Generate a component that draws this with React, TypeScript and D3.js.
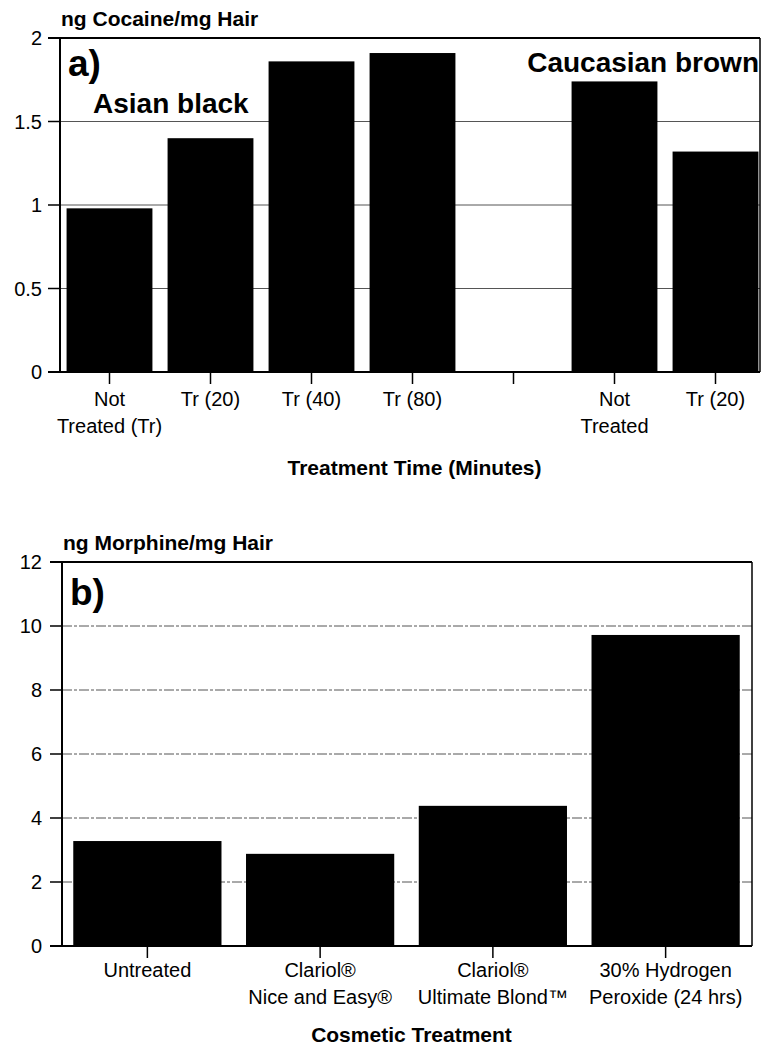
import React from "react";
import * as d3 from "d3";

const cocaineLabels: string[][] = [
  ["Not", "Treated (Tr)"],
  ["Tr (20)"],
  ["Tr (40)"],
  ["Tr (80)"],
  [],
  ["Not", "Treated"],
  ["Tr (20)"],
];
const cocaineValues = [0.98, 1.4, 1.86, 1.91, 0, 1.74, 1.32];
const cocaineTicks = [0, 0.5, 1, 1.5, 2];

const morphineLabels: string[][] = [
  ["Untreated"],
  ["Clariol®", "Nice and Easy®"],
  ["Clariol®", "Ultimate Blond™"],
  ["30% Hydrogen", "Peroxide (24 hrs)"],
];
const morphineValues = [3.28, 2.88, 4.38, 9.72];
const morphineTicks = [0, 2, 4, 6, 8, 10, 12];

const FONT = "'Liberation Sans', Arial, Helvetica, sans-serif";

type PanelProps = {
  labels: string[][];
  values: number[];
  ticks: number[];
  yMax: number;
  x0: number;
  x1: number;
  frameRight: number;
  yTop: number;
  yBottom: number;
  padIn: number;
  padOut: number;
  yTitle: string;
  panelLabel: string;
  panelLabelY: number;
  xTitle: string;
  labelBase: number;
  labelStep: number;
  xTitleY: number;
  gridDash?: string;
};

function Panel(p: PanelProps) {
  const idx = p.values.map((_, i) => String(i));
  const x = d3
    .scaleBand<string>()
    .domain(idx)
    .range([p.x0, p.x1])
    .paddingInner(p.padIn)
    .paddingOuter(p.padOut);
  const y = d3.scaleLinear().domain([0, p.yMax]).range([p.yBottom, p.yTop]);
  const left = p.x0 + 1;
  return (
    <g>
      {/* gridlines */}
      {p.ticks
        .filter((t) => t > 0 && t < p.yMax)
        .map((t) => (
          <line
            key={"g" + t}
            x1={left}
            x2={p.frameRight}
            y1={y(t)}
            y2={y(t)}
            stroke="#555"
            strokeWidth={1}
            strokeDasharray={p.gridDash}
          />
        ))}
      {/* bars */}
      {p.values.map((v, i) =>
        v > 0 ? (
          <rect
            key={"b" + i}
            x={x(String(i))}
            y={y(v)}
            width={x.bandwidth()}
            height={y(0) - y(v)}
            fill="#000"
          />
        ) : null
      )}
      {/* frame */}
      <line x1={left} x2={left} y1={y(p.yMax)} y2={y(0)} stroke="#000" strokeWidth={2} />
      <line x1={left - 12} x2={p.frameRight} y1={y(p.yMax)} y2={y(p.yMax)} stroke="#000" strokeWidth={2} />
      <line x1={p.frameRight} x2={p.frameRight} y1={y(p.yMax)} y2={y(0)} stroke="#000" strokeWidth={1.5} />
      <line x1={left - 12} x2={p.frameRight} y1={y(0)} y2={y(0)} stroke="#000" strokeWidth={2} />
      {/* y ticks */}
      {p.ticks.map((t) => (
        <g key={"t" + t}>
          <line x1={left - 12} x2={left} y1={y(t)} y2={y(t)} stroke="#000" strokeWidth={1.5} />
          <text
            x={42}
            y={y(t)}
            dy="0.35em"
            textAnchor="end"
            fontFamily={FONT}
            fontSize={20}
          >
            {t}
          </text>
        </g>
      ))}
      {/* x ticks and labels */}
      {p.labels.map((lines, i) => {
        const cx = (x(String(i)) as number) + x.bandwidth() / 2;
        return (
          <g key={"x" + i}>
            <line x1={cx} x2={cx} y1={y(0)} y2={y(0) + 12} stroke="#000" strokeWidth={1.5} />
            {lines.map((l, j) => (
              <text
                key={j}
                x={cx}
                y={p.labelBase + j * p.labelStep}
                textAnchor="middle"
                fontFamily={FONT}
                fontSize={20}
              >
                {l}
              </text>
            ))}
          </g>
        );
      })}
      {/* titles */}
      <text x={left + 1} y={y(p.yMax) - 12} fontFamily={FONT} fontSize={21} fontWeight="bold">
        {p.yTitle}
      </text>
      <text x={left + 8} y={p.panelLabelY} fontFamily={FONT} fontSize={37} fontWeight="bold">
        {p.panelLabel}
      </text>
      <text
        x={(p.x0 + p.frameRight) / 2 + 5}
        y={p.xTitleY}
        textAnchor="middle"
        fontFamily={FONT}
        fontSize={21}
        fontWeight="bold"
      >
        {p.xTitle}
      </text>
    </g>
  );
}

export default function App() {
  return (
    <svg
      width={763}
      height={1047}
      style={{ position: "absolute", left: 0, top: 0, background: "#fff" }}
    >
      <rect x={0} y={0} width={763} height={1047} fill="#fff" />
      <Panel
        labels={cocaineLabels}
        values={cocaineValues}
        ticks={cocaineTicks}
        yMax={2}
        x0={59}
        x1={766}
        frameRight={760}
        yTop={38}
        yBottom={372}
        padIn={0.15}
        padOut={0.075}
        yTitle="ng Cocaine/mg Hair"
        panelLabel="a)"
        panelLabelY={76}
        xTitle="Treatment Time (Minutes)"
        labelBase={406}
        labelStep={27}
        xTitleY={475}
      />
      <text x={93} y={113} fontFamily={FONT} fontSize={28} fontWeight="bold">
        Asian black
      </text>
      <text x={759} y={72} textAnchor="end" fontFamily={FONT} fontSize={28} fontWeight="bold">
        Caucasian brown
      </text>
      <Panel
        labels={morphineLabels}
        values={morphineValues}
        ticks={morphineTicks}
        yMax={12}
        x0={61}
        x1={752}
        frameRight={752}
        yTop={562}
        yBottom={946}
        padIn={0.142}
        padOut={0.071}
        yTitle="ng Morphine/mg Hair"
        panelLabel="b)"
        panelLabelY={605}
        xTitle="Cosmetic Treatment"
        labelBase={977}
        labelStep={27}
        xTitleY={1042}
        gridDash="10 2 3 2"
      />
    </svg>
  );
}
